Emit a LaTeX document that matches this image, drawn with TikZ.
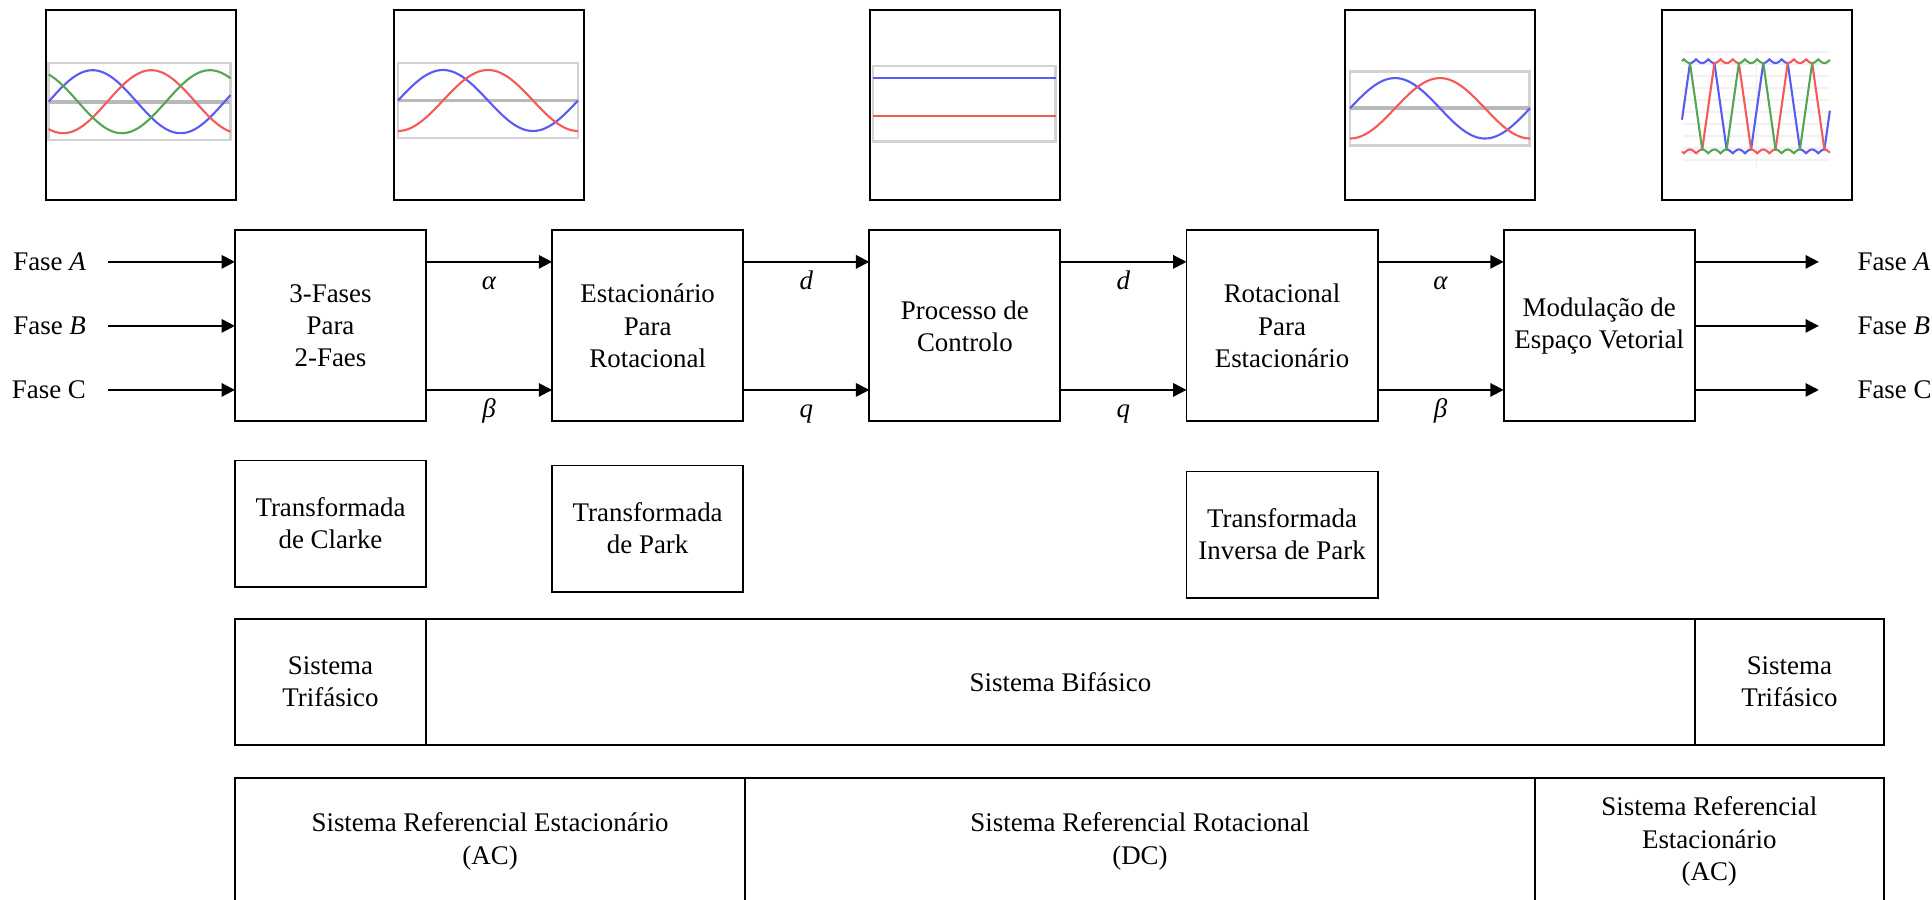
\documentclass[tikz,border=0pt]{standalone}
\usepackage{fontspec}
\setmainfont{Liberation Serif}
\usepackage{xcolor}
\usepackage{tikz}
\usetikzlibrary{arrows.meta,positioning,calc}
\definecolor{wblue}{RGB}{90,90,245}
\definecolor{wred}{RGB}{245,90,90}
\definecolor{wgreen}{RGB}{85,165,85}

\begin{document}
\begin{tikzpicture}[x=0.01cm, y=-0.01cm, >={Triangle[length=3.8pt,width=3.8pt]},
    font=\fontsize{7.65}{9.15}\selectfont, line width=0.55pt,
    blk/.style={draw, minimum width=1.91cm, minimum height=1.91cm, align=center, outer sep=0pt, inner sep=1pt},
    note/.style={draw, minimum width=1.91cm, minimum height=1.26cm, align=center, outer sep=0pt},
    cell/.style={draw, minimum height=1.265cm, align=center, outer sep=0pt},
    scr/.style={draw, minimum width=1.9cm, minimum height=1.9cm, outer sep=0pt},
    sig/.style={midway, anchor=base, yshift=-0.28cm, inner sep=0pt},
    wave/.style={line width=0.6pt},
    declare function={trz(\u)=(\u<60)*(0.04+0.92*\u/60)
      + and(\u>=60,\u<180)*(1-0.04*abs(cos(3*(\u-60))))
      + and(\u>=180,\u<240)*(0.96-0.92*(\u-180)/60)
      + (\u>=240)*(0.04*abs(cos(3*(\u-240))));}]
        \useasboundingbox (0,0) rectangle (1932,900);

        % blocos principais
        \node[blk] (b1) at (330.5,325.9) {3-Fases\\Para\\2-Faes};
        \node[blk, right=1.26cm of b1] (b2) {Estacionário\\Para\\Rotacional};
        \node[blk, right=1.26cm of b2] (b3) {Processo de\\Controlo};
        \node[blk, right=1.26cm of b3] (b4) {Rotacional\\Para\\Estacionário};
        \node[blk, right=1.26cm of b4] (b5) {Modulação de\\Espaço Vetorial};

        % entradas e saidas
        \node[left=1.265cm of b1.west, yshift=0.64cm, inner xsep=2.15mm] (inA) {Fase \textit{A}};
        \node[left=1.265cm of b1.west, inner xsep=2.15mm] (inB) {Fase \textit{B}};
        \node[left=1.265cm of b1.west, yshift=-0.64cm, inner xsep=2.15mm] (inC) {Fase C};
        \node[right=1.24cm of b5.east, yshift=0.64cm, inner xsep=3.77mm] (outA) {Fase \textit{A}};
        \node[right=1.24cm of b5.east, inner xsep=3.77mm] (outB) {Fase \textit{B}};
        \node[right=1.24cm of b5.east, yshift=-0.64cm, inner xsep=3.77mm] (outC) {Fase C};
        \foreach \n in {A,B,C} {
          \draw[->] (in\n) -- (in\n -| b1.west);
          \draw[->] (out\n -| b5.east) -- (out\n);
        }
        \foreach \u/\v/\p/\q in {b1/b2/α/β, b2/b3/d/q, b3/b4/d/q, b4/b5/α/β} {
          \draw[->] ([yshift=0.64cm]\u.east) -- node[sig] {\textit{\p}} ([yshift=0.64cm]\v.west);
          \draw[->] ([yshift=-0.64cm]\u.east) -- node[sig] {\textit{\q}} ([yshift=-0.64cm]\v.west);
        }

        % transformadas
        \node[note, below=0.39cm of b1] (t1) {Transformada\\de Clarke};
        \node[note, below=0.44cm of b2] (t2) {Transformada\\de Park};
        \node[note, below=0.5cm of b4] (t3) {Transformada\\Inversa de Park};

        % sistemas
        \node[cell, minimum width=1.91cm, below=0.32cm of t1] (s1) {Sistema\\Trifásico};
        \node[cell, minimum width=12.68cm, right=0cm of s1] (s2) {Sistema Bifásico};
        \node[cell, minimum width=1.89cm, right=0cm of s2] (s3) {Sistema\\Trifásico};
        \node[cell, minimum width=5.10cm, below=0.33cm of s1.south west, anchor=north west] (r1) {Sistema Referencial Estacionário\\(AC)};
        \node[cell, minimum width=7.89cm, right=0cm of r1] (r2) {Sistema Referencial Rotacional\\(DC)};
        \node[cell, minimum width=3.49cm, right=0cm of r2] (r3) {Sistema Referencial\\Estacionário\\(AC)};

        % formas de onda
        \node[scr] (p1) at (141,105) {};
        \node[scr] (p2) at (489,105) {};
        \node[scr] (p3) at (965,105) {};
        \node[scr] (p4) at (1440,105) {};
        \node[scr] (p5) at (1757,105) {};

        \draw[gray!35, line width=0.7pt] (48.6,63) rectangle (230.4,140);
        \draw[gray!55, line width=1.1pt] (48.6,101.7) -- (230.4,101.7);
        \draw[wave, wblue] plot[domain=0:372, samples=90] ({48.6+\x/360*176},{101.7-31.5*sin(\x)});
        \draw[wave, wred] plot[domain=0:372, samples=90] ({48.6+\x/360*176},{101.7-31.5*sin(\x-120)});
        \draw[wave, wgreen] plot[domain=0:372, samples=90] ({48.6+\x/360*176},{101.7-31.5*sin(\x+120)});

        \draw[gray!35, line width=0.7pt] (398,63) rectangle (578,138);
        \draw[gray!55, line width=1.1pt] (398,100.5) -- (578,100.5);
        \draw[wave, wblue] plot[domain=0:360, samples=90] ({398+\x/2},{100.5-30.5*sin(\x)});
        \draw[wave, wred] plot[domain=0:360, samples=90] ({398+\x/2},{100.5+30.5*cos(\x)});

        \draw[gray!35, line width=0.7pt] (873,66) rectangle (1055.5,141.7);
        \draw[wave, wblue] (873,78.3) -- (1055.5,78.3);
        \draw[wave, wred] (873,115.7) -- (1055.5,115.7);

        \draw[gray!35, line width=0.7pt] (1350,71.7) rectangle (1529.6,145.7);
        \draw[gray!55, line width=1.1pt] (1350,108.3) -- (1529.6,108.3);
        \draw[wave, wblue] plot[domain=0:360, samples=90] ({1350+\x/2},{108.3-30.2*sin(\x)});
        \draw[wave, wred] plot[domain=0:360, samples=90] ({1350+\x/2},{108.3+30.2*cos(\x)});

        \foreach \yy in {52,64,...,166}
          \draw[gray!10, line width=0.3pt] (1683,\yy) -- (1829,\yy);
        \draw[gray!12, line width=0.3pt] (1756.7,50) -- (1756.7,168);
        \foreach \o/\c in {0/wblue, 240/wred, 120/wgreen}
          \draw[wave, \c] plot[domain=20.7:747, samples=400] ({1690+(\x-60)/360*73.3},{153.3-94*trz(mod(\x+\o,360))});
      \end{tikzpicture}
\end{document}
